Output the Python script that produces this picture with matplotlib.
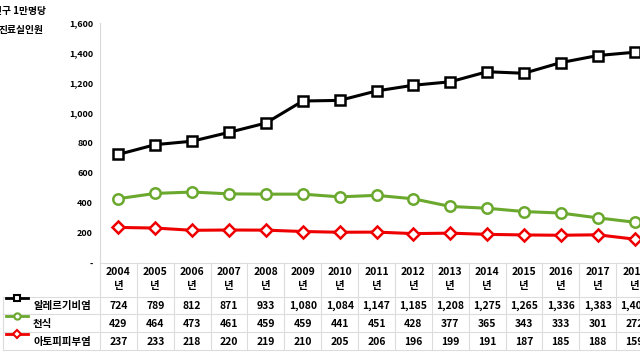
import numpy as np
import matplotlib.pyplot as plt
from matplotlib.transforms import blended_transform_factory
from matplotlib.lines import Line2D

plt.rcParams['font.family'] = ['Noto Sans CJK KR', 'DejaVu Sans']

# data
years = ['2004', '2005', '2006', '2007', '2008', '2009', '2010', '2011',
         '2012', '2013', '2014', '2015', '2016', '2017', '2018']
allergy = [724, 789, 812, 871, 933, 1080, 1084, 1147, 1185, 1208, 1275, 1265, 1336, 1383, 1405]
asthma = [429, 464, 473, 461, 459, 459, 441, 451, 428, 377, 365, 343, 333, 301, 272]
atopy = [237, 233, 218, 220, 219, 210, 205, 206, 196, 199, 191, 187, 185, 188, 159]
names = ['알레르기비염', '천식', '아토피피부염']
series = [allergy, asthma, atopy]
colors = ['#000000', '#6aa82e', '#ee0000']
markers = ['s', 'o', 'D']
msizes = [7.5, 7.5, 6.5]

W, H = 640, 360
fig = plt.figure(figsize=(6.4, 3.6), dpi=100)
# plot area runs past the right edge (the source image is cropped)
ax = fig.add_axes([100 / W, 97 / H, 553 / W, 240 / H])

x = np.arange(len(years))
for vals, c, m, ms in zip(series, colors, markers, msizes):
    ax.plot(x, vals, color=c, lw=2.2, marker=m, ms=ms, mfc='white',
            mec=c, mew=1.8, clip_on=False, zorder=3)

ax.set_xlim(-0.5, len(years) - 0.5)
ax.set_ylim(0, 1600)
ax.set_yticks(np.arange(0, 1601, 200))
ax.set_yticklabels(['-'] + ['{:,}'.format(v) for v in range(200, 1601, 200)],
                   fontsize=6.5, fontweight='bold')
ax.tick_params(axis='y', length=0, pad=5)
ax.set_xticks([])
for s in ['top', 'right', 'bottom']:
    ax.spines[s].set_visible(False)
ax.spines['left'].set_color('#d9d9d9')

# data table under the plot
tr = blended_transform_factory(ax.transData, fig.transFigure)
def fy(py):
    return (H - py) / H

grid = '#dcdcdc'
fs = 7.5
for i in range(len(years) + 1):
    ax.add_line(Line2D([i - 0.5, i - 0.5], [fy(263), fy(350)], transform=tr,
                       color=grid, lw=0.8, clip_on=False))
ax.add_line(Line2D([-0.5, len(years)], [fy(263), fy(263)], transform=tr,
                   color=grid, lw=0.8, clip_on=False))
for py in [297, 314, 332, 350]:
    fig.add_artist(Line2D([3 / W, 1.0], [fy(py), fy(py)], color=grid, lw=0.8))
fig.add_artist(Line2D([3 / W, 3 / W], [fy(297), fy(350)], color=grid, lw=0.8))

for i, yr in enumerate(years):
    ax.text(i, fy(272), yr, transform=tr, ha='center', va='center',
            fontsize=fs, fontweight='bold')
    ax.text(i, fy(286), '년', transform=tr, ha='center', va='center',
            fontsize=fs, fontweight='bold')

row_y = [306, 324, 342]
for vals, ry in zip(series, row_y):
    for i, v in enumerate(vals):
        ax.text(i, fy(ry), '{:,}'.format(v), transform=tr, ha='center',
                va='center', fontsize=fs, fontweight='bold')

for name, c, m, ms, ry in zip(names, colors, markers, msizes, row_y):
    fig.add_artist(Line2D([6 / W, 28 / W], [fy(ry - 8), fy(ry - 8)], color=c,
                          lw=2.0))
    fig.add_artist(Line2D([17 / W], [fy(ry - 8)], color=c, marker=m,
                          ms=ms * 0.6, mfc='white', mec=c, mew=1.5))
    fig.text(33 / W, fy(ry), name, ha='left', va='center',
             fontsize=fs, fontweight='bold')

# axis title (cut at the left edge in the source)
fig.text(46 / W, fy(11), '인구 1만명당', ha='right', va='center',
         fontsize=7, fontweight='bold')
fig.text(44 / W, fy(30), '진료실인원', ha='right', va='center',
         fontsize=7, fontweight='bold')

fig.savefig('out.png', dpi=100)
